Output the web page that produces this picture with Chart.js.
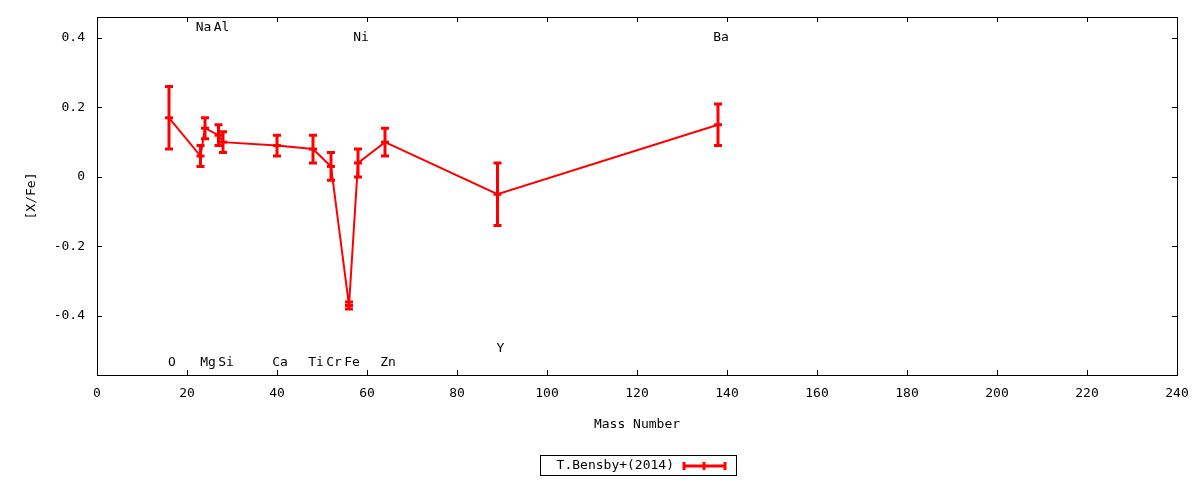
<!DOCTYPE html>
<html>
<head>
<meta charset="utf-8">
<script src="https://cdn.jsdelivr.net/npm/chart.js@4"></script>
<style>
  body { margin: 0; background: #fff; }
</style>
</head>
<body>
<canvas id="chart" width="1200" height="480"></canvas>
<script>
// abundances from T.Bensby+(2014)
const elements = ['O', 'Na', 'Mg', 'Al', 'Si', 'Ca', 'Ti', 'Cr', 'Fe', 'Ni', 'Zn', 'Y', 'Ba']
const massNumber = [16, 23, 24, 27, 28, 40, 48, 52, 56, 58, 64, 89, 138]
const xFe = [0.17, 0.06, 0.14, 0.12, 0.10, 0.09, 0.08, 0.03, -0.37, 0.04, 0.10, -0.05, 0.15]
const xFeErr = [0.09, 0.03, 0.03, 0.03, 0.03, 0.03, 0.04, 0.04, 0.01, 0.04, 0.04, 0.09, 0.06]
// where each element name sits, in [X/Fe] units
const labelY = [-0.535, 0.428, -0.535, 0.428, -0.535, -0.535, -0.535, -0.535, -0.535, 0.40, -0.535, -0.495, 0.40]

const xTicks = [0, 20, 40, 60, 80, 100, 120, 140, 160, 180, 200, 220, 240]
const yTicks = [-0.4, -0.2, 0, 0.2, 0.4]
const seriesName = 'T.Bensby+(2014)'

const RED = '#ff0000'
const FONT = '13px "DejaVu Sans Mono"'

const points = massNumber.map((m, i) => ({ x: m, y: xFe[i] }))

const gnuplotLook = {
    id: 'gnuplotLook',
    afterDatasetsDraw(chart) {
        const ctx = chart.ctx
        const xs = chart.scales.x
        const ys = chart.scales.y
        ctx.save()
        ctx.strokeStyle = RED
        ctx.lineWidth = 3
        ctx.lineCap = 'butt'
        massNumber.forEach((m, i) => {
            const x = xs.getPixelForValue(m)
            const top = ys.getPixelForValue(xFe[i] + xFeErr[i])
            const bot = ys.getPixelForValue(xFe[i] - xFeErr[i])
            ctx.beginPath()
            ctx.moveTo(x, top)
            ctx.lineTo(x, bot)
            ctx.moveTo(x - 4, top)
            ctx.lineTo(x + 4, top)
            ctx.moveTo(x - 4, bot)
            ctx.lineTo(x + 4, bot)
            ctx.stroke()
        })
        ctx.restore()
    },
    afterDraw(chart) {
        const ctx = chart.ctx
        const a = chart.chartArea
        const xs = chart.scales.x
        const ys = chart.scales.y
        ctx.save()

        // frame and inward ticks on all four sides
        ctx.strokeStyle = '#000'
        ctx.lineWidth = 1
        ctx.strokeRect(a.left + 0.5, a.top + 0.5, a.right - a.left, a.bottom - a.top)
        ctx.beginPath()
        xTicks.forEach(v => {
            const x = Math.round(xs.getPixelForValue(v)) + 0.5
            ctx.moveTo(x, a.bottom)
            ctx.lineTo(x, a.bottom - 5)
            ctx.moveTo(x, a.top)
            ctx.lineTo(x, a.top + 5)
        })
        yTicks.forEach(v => {
            const y = Math.round(ys.getPixelForValue(v)) + 0.5
            ctx.moveTo(a.left, y)
            ctx.lineTo(a.left + 5, y)
            ctx.moveTo(a.right, y)
            ctx.lineTo(a.right - 5, y)
        })
        ctx.stroke()

        // element names
        ctx.fillStyle = '#000'
        ctx.font = FONT
        ctx.textAlign = 'center'
        ctx.textBaseline = 'middle'
        elements.forEach((el, i) => {
            ctx.fillText(el, xs.getPixelForValue(massNumber[i]) + 3, ys.getPixelForValue(labelY[i]))
        })

        // axis titles
        ctx.fillText('Mass Number', (a.left + a.right) / 2, 425)
        ctx.save()
        ctx.translate(32, (a.top + a.bottom) / 2)
        ctx.rotate(-Math.PI / 2)
        ctx.fillText('[X/Fe]', 0, 0)
        ctx.restore()

        // legend box
        ctx.strokeRect(540.5, 455.5, 196, 20)
        ctx.textAlign = 'right'
        ctx.fillText(seriesName, 674, 466)
        ctx.strokeStyle = RED
        ctx.lineWidth = 3
        ctx.beginPath()
        ctx.moveTo(684, 466)
        ctx.lineTo(725, 466)
        ctx.moveTo(684, 462)
        ctx.lineTo(684, 470)
        ctx.moveTo(725, 462)
        ctx.lineTo(725, 470)
        ctx.moveTo(704, 462)
        ctx.lineTo(704, 470)
        ctx.stroke()

        ctx.restore()
    }
}

new Chart(document.getElementById('chart'), {
    type: 'scatter',
    data: {
        datasets: [{
            label: seriesName,
            data: points,
            showLine: true,
            borderColor: RED,
            backgroundColor: RED,
            borderWidth: 2,
            pointStyle: 'line',
            pointRadius: 4,
            pointBorderWidth: 3,
            pointBorderColor: RED,
            tension: 0
        }]
    },
    options: {
        responsive: false,
        animation: false,
        devicePixelRatio: 1,
        layout: { padding: { left: 0, right: 23, top: 17, bottom: 0 } },
        plugins: {
            legend: { display: false },
            tooltip: { enabled: false }
        },
        scales: {
            x: {
                type: 'linear',
                min: 0,
                max: 240,
                grid: { display: false, drawTicks: false, tickLength: 0 },
                border: { display: false },
                afterBuildTicks: s => { s.ticks = xTicks.map(v => ({ value: v })) },
                afterFit: s => { s.height = 105; s.paddingLeft = 0; s.paddingRight = 0 },
                ticks: {
                    color: '#000',
                    font: { family: 'DejaVu Sans Mono', size: 13 },
                    padding: 11,
                    maxRotation: 0,
                    autoSkip: false
                }
            },
            y: {
                min: -0.57,
                max: 0.46,
                grid: { display: false, drawTicks: false, tickLength: 0 },
                border: { display: false },
                afterBuildTicks: s => { s.ticks = yTicks.map(v => ({ value: v })) },
                afterFit: s => { s.width = 97; s.paddingTop = 0; s.paddingBottom = 0 },
                ticks: {
                    color: '#000',
                    font: { family: 'DejaVu Sans Mono', size: 13 },
                    padding: 12,
                    callback: v => v === 0 ? '0' : v.toFixed(1)
                }
            }
        }
    },
    plugins: [gnuplotLook]
})
</script>
</body>
</html>
